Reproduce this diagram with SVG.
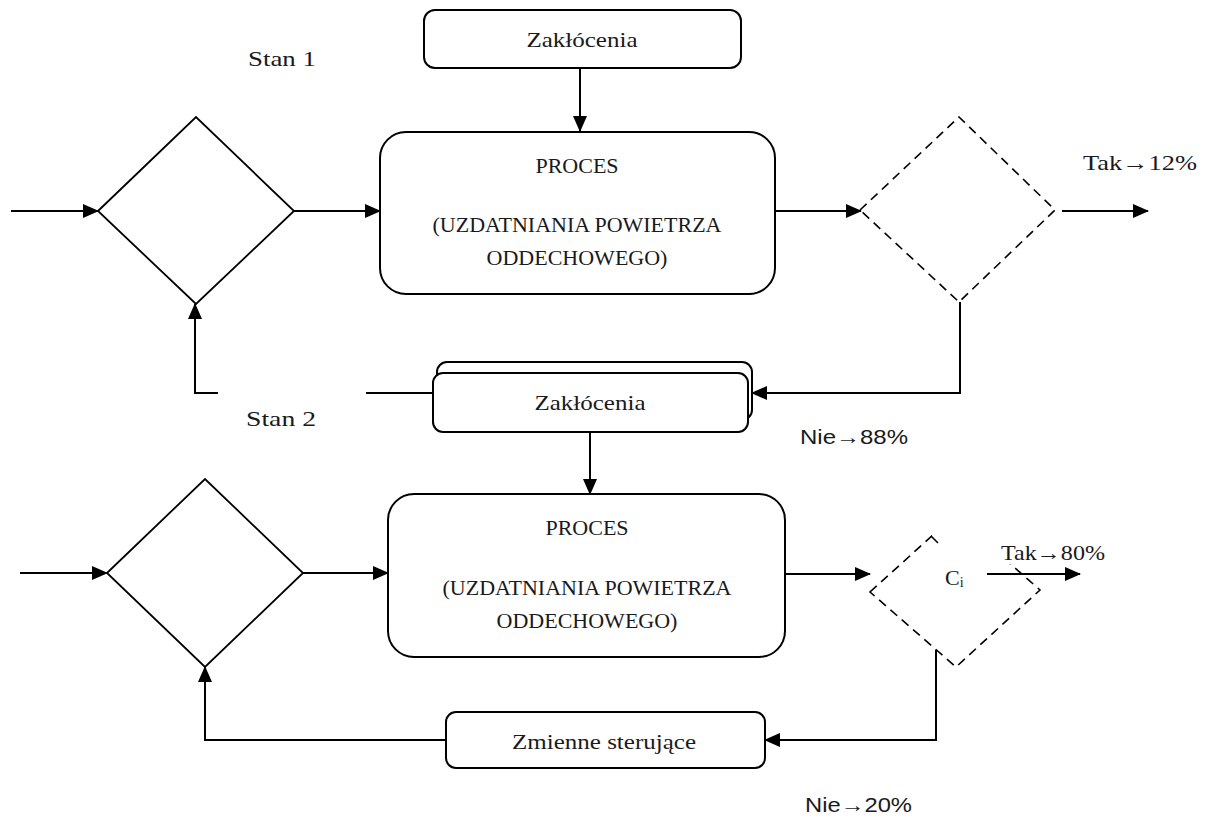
<svg xmlns="http://www.w3.org/2000/svg" width="1205" height="818" viewBox="0 0 1205 818">
<defs>
<marker id="ah" markerUnits="userSpaceOnUse" markerWidth="16" markerHeight="14" refX="15" refY="7" orient="auto">
<path d="M0,0 L16,7 L0,14 Z" fill="#000"/>
</marker>
<style>
.box{fill:#fff;stroke:#000;stroke-width:2}
.dia{fill:none;stroke:#000;stroke-width:1.8}
.dash{fill:none;stroke:#000;stroke-width:1.6;stroke-dasharray:9 6}
.ln{fill:none;stroke:#000;stroke-width:2}
.arr{fill:none;stroke:#000;stroke-width:2;marker-end:url(#ah)}
.t{font-family:"Liberation Serif","Times New Roman",serif;font-size:22px;fill:#1a1a1a;text-anchor:middle}
.tl{font-family:"Liberation Serif","Times New Roman",serif;font-size:22px;fill:#1a1a1a}
.s{font-family:"Liberation Sans",Arial,sans-serif;font-size:20px;fill:#1a1a1a}
</style>
</defs>

<g id="connectors">
<line class="arr" x1="580" y1="68" x2="580" y2="131"/>
<line class="arr" x1="11" y1="211" x2="98" y2="211"/>
<line class="arr" x1="294" y1="211" x2="380" y2="211"/>
<line class="arr" x1="775" y1="211" x2="861" y2="211"/>
<line class="arr" x1="1062" y1="211" x2="1148" y2="211"/>
<polyline class="arr" points="960,302 960,393 752,393"/>
<line class="ln" x1="366" y1="393" x2="433" y2="393"/>
<polyline class="arr" points="218,393 195,393 195,304"/>
<line class="arr" x1="590" y1="432" x2="590" y2="494"/>
<line class="arr" x1="20" y1="573" x2="107" y2="573"/>
<line class="arr" x1="303" y1="573" x2="388" y2="573"/>
<line class="arr" x1="785" y1="574" x2="870" y2="574"/>
<polyline class="arr" points="936,650 936,740 765,740"/>
<polyline class="arr" points="446,740 205,740 205,667"/>
</g>

<g id="zaklocenia1">
<rect class="box" x="424" y="10" width="317" height="58" rx="11"/>
<text class="t" x="582" y="47" textLength="111" lengthAdjust="spacingAndGlyphs">Zakłócenia</text>
</g>

<g id="stan1">
<text class="tl" x="248" y="66" textLength="68" lengthAdjust="spacingAndGlyphs">Stan 1</text>
</g>

<g id="decyzja1">
<polygon class="dia" points="98,211 196,117 294,211 196,304"/>
</g>

<g id="proces1">
<rect class="box" x="380" y="132" width="395" height="162" rx="26"/>
<text class="t" x="577" y="173">PROCES</text>
<text class="t" x="577" y="232">(UZDATNIANIA POWIETRZA</text>
<text class="t" x="577" y="265">ODDECHOWEGO)</text>
</g>

<g id="kontrola1">
<polygon class="dash" points="860,210 959,117 1055,210 959,302"/>
</g>

<g id="tak12">
<text class="tl" x="1083" y="170" textLength="114" lengthAdjust="spacingAndGlyphs">Tak→12%</text>
</g>

<g id="zaklocenia2">
<rect class="box" x="437" y="362" width="315" height="58" rx="10"/>
<rect class="box" x="433" y="373" width="315" height="59" rx="10"/>
<text class="t" x="590" y="410" textLength="111" lengthAdjust="spacingAndGlyphs">Zakłócenia</text>
</g>

<g id="stan2">
<text class="tl" x="246" y="426" textLength="70" lengthAdjust="spacingAndGlyphs">Stan 2</text>
</g>

<g id="nie88">
<text class="s" x="800" y="444" textLength="108" lengthAdjust="spacingAndGlyphs">Nie→88%</text>
</g>

<g id="decyzja2">
<polygon class="dia" points="107,573 205,479 303,573 205,667"/>
</g>

<g id="proces2">
<rect class="box" x="388" y="494" width="397" height="163" rx="26"/>
<text class="t" x="587" y="535">PROCES</text>
<text class="t" x="587" y="595">(UZDATNIANIA POWIETRZA</text>
<text class="t" x="587" y="628">ODDECHOWEGO)</text>
</g>

<g id="kontrola2">
<polygon class="dash" points="870,592 955,515 1040,590 956,667"/>
<rect x="932" y="500" width="180" height="64" fill="#fff"/>
<rect x="930" y="564" width="57" height="30" fill="#fff"/>
<line class="ln" x1="931" y1="536" x2="938" y2="543" style="stroke-width:1.6"/>
<line class="arr" x1="987" y1="574" x2="1080" y2="574"/>
<text class="tl" x="945" y="585">C<tspan font-size="14" dy="2">i</tspan></text>
</g>

<g id="tak80">
<text class="tl" x="1001" y="560" textLength="104" lengthAdjust="spacingAndGlyphs">Tak→80%</text>
</g>

<g id="zmienne">
<rect class="box" x="446" y="712" width="319" height="56" rx="10"/>
<text class="t" x="604" y="749" textLength="184" lengthAdjust="spacingAndGlyphs">Zmienne sterujące</text>
</g>

<g id="nie20">
<text class="s" x="805" y="812" textLength="107" lengthAdjust="spacingAndGlyphs">Nie→20%</text>
</g>
</svg>
